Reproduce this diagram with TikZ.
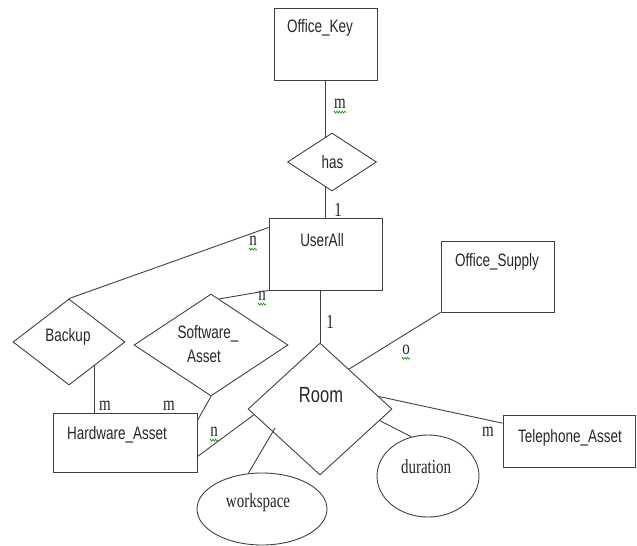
\documentclass[tikz,border=0pt]{standalone}
\usepackage{fontspec}
\setmainfont{Liberation Serif}
\setsansfont{Liberation Sans}
\usetikzlibrary{shapes.geometric,calc,decorations.pathmorphing}
\newcommand{\nrw}[1]{\scalebox{0.75}[1]{#1}}
\begin{document}
\begin{tikzpicture}[x=1pt,y=-1pt,
  line width=0.9pt,
  conn/.style={draw=black!75},
  ent/.style={draw=black!75,rectangle,inner sep=0pt},
  rel/.style={draw=black!75,diamond,inner sep=0pt},
  attr/.style={draw=black!75,ellipse,inner sep=0pt},
  stxt/.style={font=\fontsize{18}{22}\selectfont\sffamily,text=black!85,inner sep=0pt,align=center},
  rtxt/.style={font=\fontsize{20}{24}\selectfont\rmfamily,text=black!85,inner sep=0pt},
  card/.style={font=\fontsize{20}{24}\selectfont\rmfamily,text=black!85,inner sep=0pt},
  squig/.style={draw=green!60!black,line width=0.6pt,decorate,decoration={zigzag,segment length=2.6pt,amplitude=1pt}}
]
\useasboundingbox (0,0) rectangle (637,546);

% entities
\node[ent,minimum width=103pt,minimum height=72pt] (OK) at (325.5,44) {};
\node[ent,minimum width=113pt,minimum height=72pt] (UA) at (325.5,254) {};
\node[ent,minimum width=113pt,minimum height=71pt] (OS) at (497.5,276.5) {};
\node[ent,minimum width=144pt,minimum height=59pt] (HA) at (125,442.5) {};
\node[ent,minimum width=132pt,minimum height=52pt] (TA) at (569,441) {};

% relationships
\node[rel,minimum width=89pt,minimum height=58pt,aspect=1.53] (has) at (332,162) {};
\node[rel,minimum width=112pt,minimum height=86pt,aspect=1.3] (BK) at (69,342) {};
\node[rel,minimum width=154pt,minimum height=102pt,aspect=1.51] (SA) at (211,345) {};
\node[rel,minimum width=144pt,minimum height=132pt,aspect=1.09] (Room) at (320,409) {};

% attributes
\node[attr,minimum width=102pt,minimum height=82pt] (DU) at (428,476) {};
\node[attr,minimum width=130pt,minimum height=72pt] (WS) at (262,509) {};

% texts
\node[stxt] (OKt) at (320,28) {\nrw{Office\_Key}};
\node[stxt] (hast) at (332.5,162) {\nrw{has}};
\node[stxt] (UAt) at (322,240) {\nrw{UserAll}};
\node[stxt] (OSt) at (497,262) {\nrw{Office\_Supply}};
\node[stxt] (BKt) at (68,337) {\nrw{Backup}};
\node[stxt] (SAt1) at (208,334) {\nrw{Software\_}};
\node[stxt] (SAt2) at (204,356) {\nrw{Asset}};
\node[stxt] (HAt) at (117,435) {\nrw{Hardware\_Asset}};
\node[stxt] (TAt) at (570,438) {\nrw{Telephone\_Asset}};
\node[stxt,font=\fontsize{22}{26}\selectfont\sffamily] (Roomt) at (321,395) {\nrw{Room}};
\node[rtxt] (DUt) at (426,467) {\nrw{duration}};
\node[rtxt] (WSt) at (258,503) {\nrw{workspace}};

% cardinalities
\node[card] (m1) at (340,104) {\nrw{m}};
\node[card] (c1) at (338,210) {\nrw{1}};
\node[card] (n1) at (253,241) {\nrw{n}};
\node[card] (n2) at (262,296) {\nrw{n}};
\node[card] (m2) at (105,406) {\nrw{m}};
\node[card] (m3) at (169,406) {\nrw{m}};
\node[card] (n3) at (214,432) {\nrw{n}};
\node[card] (c2) at (330,322) {\nrw{1}};
\node[card] (o1) at (406,350) {\nrw{o}};
\node[card] (m4) at (488,432) {\nrw{m}};

% spell-check squiggles
\draw[squig] ($(m1.south west)+(0,3)$) -- ($(m1.south east)+(0,3)$);
\draw[squig] ($(n1.south west)+(0,3)$) -- ($(n1.south east)+(0,3)$);
\draw[squig] ($(n2.south west)+(0,3)$) -- ($(n2.south east)+(0,3)$);
\draw[squig] ($(n3.south west)+(0,3)$) -- ($(n3.south east)+(0,3)$);
\draw[squig] ($(o1.south west)+(0,3)$) -- ($(o1.south east)+(0,3)$);

% connectors
\draw[conn] (has.104) -- (has.104 |- OK.south);
\draw[conn] (has.-104) -- (has.-104 |- UA.north);
\draw[conn] (UA.155) -- (BK.north);
\draw[conn] (UA.south west) -- (SA.80);
\draw[conn] (BK.-44) -- (BK.-44 |- HA.north);
\draw[conn] (SA.south) -- (HA.17);
\draw[conn] (HA.-11) -- (Room.-175);
\draw[conn] (Room.north) -- (Room.north |- UA.south);
\draw[conn] (OS.south west) -- (Room.54);
\draw[conn] (Room.12) -- (TA.165);
\draw[conn] (Room.-11) -- (DU.113);
\coordinate (wsEnd) at ($(Room.center)+(-45,19)$);
\draw[conn] (WS.111) -- (wsEnd);
\end{tikzpicture}
\end{document}
